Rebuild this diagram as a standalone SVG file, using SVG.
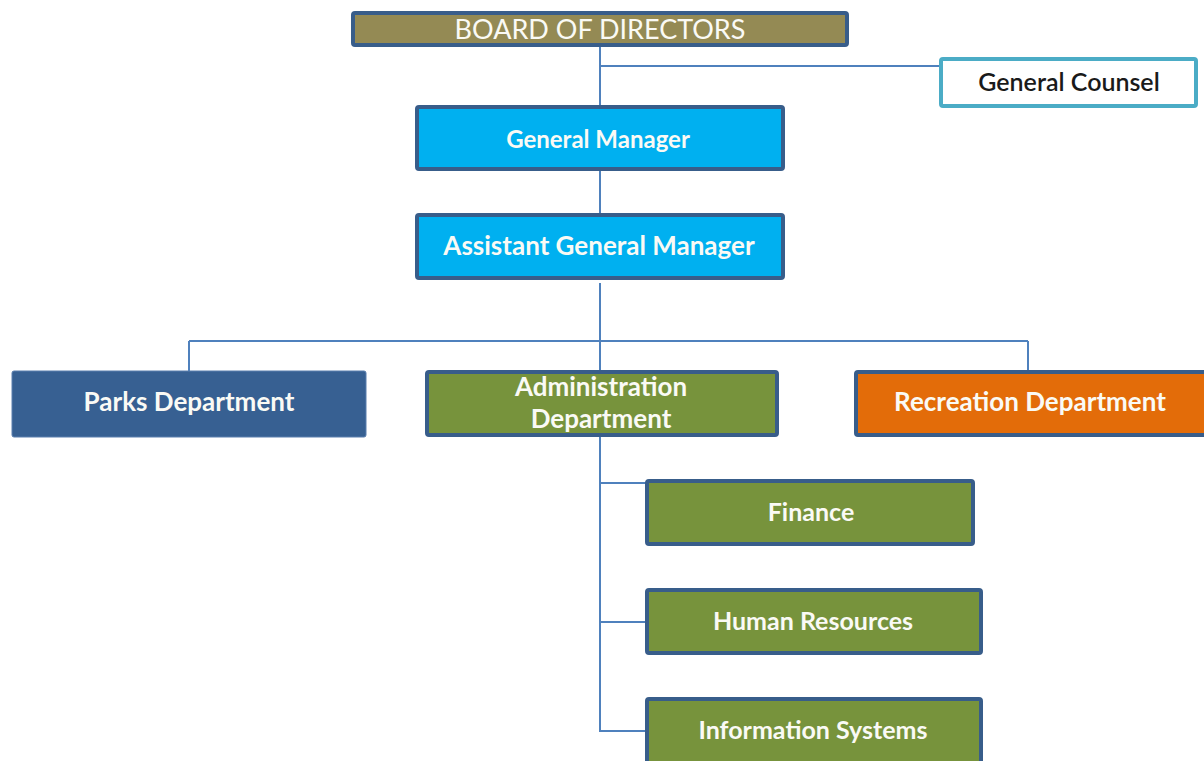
<svg xmlns="http://www.w3.org/2000/svg" width="1204" height="761" viewBox="0 0 1204 761">
  <style>
    .box { stroke: #385D8A; stroke-width: 4; }
    .lbl { font-family: Lato, "Open Sans", "Liberation Sans", sans-serif; font-weight: bold; fill: #FAFAF5; text-anchor: middle; dominant-baseline: central; }
    .conn { stroke: #4F81BD; stroke-width: 2; fill: none; }
  </style>
  <rect width="1204" height="761" fill="#FFFFFF"/>

  <!-- connectors -->
  <g id="connectors" class="conn">
    <path d="M600 46 V106"/>
    <path d="M600 66 H940"/>
    <path d="M600 170 V214"/>
    <path d="M600 283 V371"/>
    <path d="M189 341 H1028"/>
    <path d="M189 341 V371"/>
    <path d="M1028 341 V371"/>
    <path d="M600 436 V731 H646"/>
    <path d="M600 483 H646"/>
    <path d="M600 622 H646"/>
  </g>

  <g id="board">
    <rect class="box" x="353" y="13" width="494" height="32" rx="2" fill="#948A54"/>
    <text class="lbl" x="600" y="28" font-size="27" style="font-weight:normal">BOARD OF DIRECTORS</text>
  </g>

  <g id="general-counsel">
    <rect x="941" y="59" width="255" height="47" rx="2" fill="#FFFFFF" stroke="#4BACC6" stroke-width="4"/>
    <text class="lbl" x="1069" y="81" font-size="25" style="fill:#1A1A1A;font-weight:600">General Counsel</text>
  </g>

  <g id="general-manager">
    <rect class="box" x="417" y="107" width="366" height="62" rx="2" fill="#00B0F0"/>
    <text class="lbl" x="598" y="138" font-size="24">General Manager</text>
  </g>

  <g id="assistant-general-manager">
    <rect class="box" x="417" y="215" width="366" height="63" rx="2" fill="#00B0F0"/>
    <text class="lbl" x="599" y="245" font-size="26">Assistant General Manager</text>
  </g>

  <g id="parks">
    <rect x="12" y="371" width="354" height="66" rx="2" fill="#376092" stroke="#5A7FAE" stroke-width="1"/>
    <text class="lbl" x="189" y="401" font-size="26">Parks Department</text>
  </g>

  <g id="administration">
    <rect class="box" x="427" y="372" width="350" height="63" rx="2" fill="#77933C"/>
    <text class="lbl" x="601" y="386" font-size="26">Administration</text>
    <text class="lbl" x="601" y="418" font-size="26">Department</text>
  </g>

  <g id="recreation">
    <rect class="box" x="856" y="372" width="350" height="63" rx="2" fill="#E36C09"/>
    <text class="lbl" x="1030" y="401" font-size="26">Recreation Department</text>
  </g>

  <g id="finance">
    <rect class="box" x="647" y="481" width="326" height="63" rx="2" fill="#77933C"/>
    <text class="lbl" x="811" y="511" font-size="25">Finance</text>
  </g>

  <g id="human-resources">
    <rect class="box" x="647" y="590" width="334" height="63" rx="2" fill="#77933C"/>
    <text class="lbl" x="813" y="620" font-size="25">Human Resources</text>
  </g>

  <g id="information-systems">
    <rect class="box" x="647" y="699" width="334" height="66" rx="2" fill="#77933C"/>
    <text class="lbl" x="813" y="729" font-size="25">Information Systems</text>
  </g>
</svg>
